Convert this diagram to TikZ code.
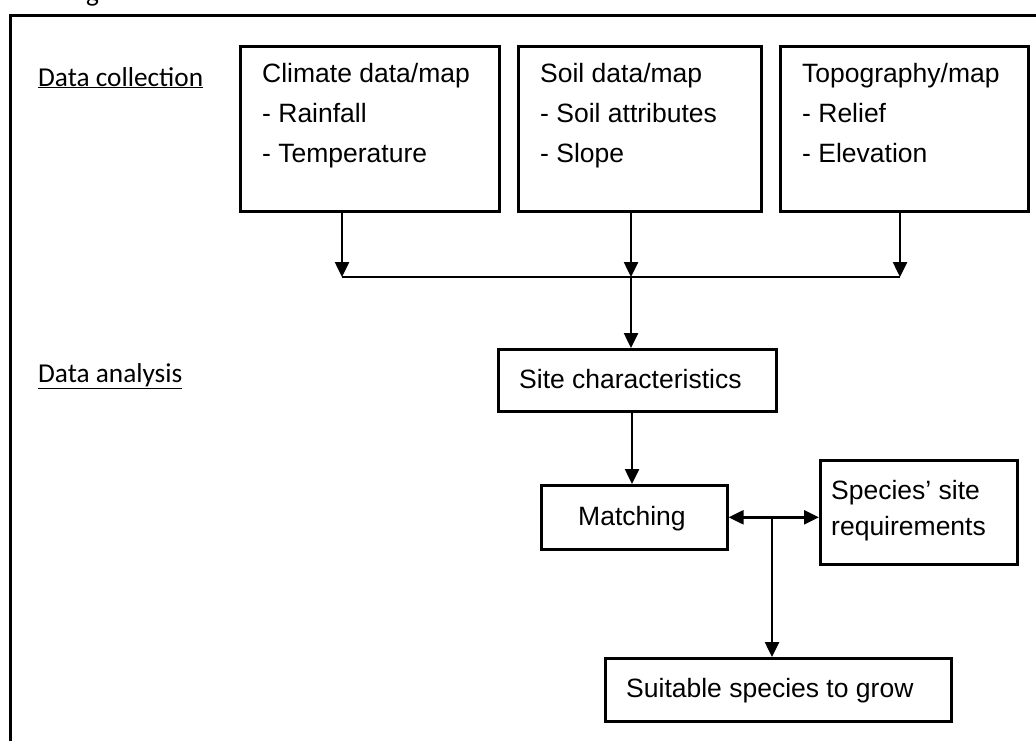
\documentclass[tikz,border=0pt]{standalone}
\usepackage{fontspec}
\setmainfont{Liberation Sans}
\newfontfamily\calib{Carlito}
\usetikzlibrary{arrows.meta}
\tikzset{
  box/.style={draw, line width=2.6pt, rectangle, inner sep=0pt, anchor=north west},
  lbl/.style={anchor=base west, inner sep=0pt, font=\fontsize{26.5}{40}\selectfont},
  head/.style={anchor=base west, inner sep=0pt, font=\calib\fontsize{27.3}{33}\selectfont},
  conn/.style={line width=2.5pt},
  arr/.style={line width=2.5pt, -{Triangle[length=15pt,width=14pt]}},
  darr/.style={line width=2.5pt, {Triangle[length=15pt,width=14pt]}-{Triangle[length=15pt,width=14pt]}},
  frame/.style={line width=3pt}
}
\begin{document}
\begin{tikzpicture}[x=1pt,y=-1pt]
\useasboundingbox (0,0) rectangle (1036,740);
\begin{scope}
\clip (0,0) rectangle (1036,740);
% cut-off caption letter at the top
\node[head] (cap) at (86,1) {g};
% outer frame (continues beyond the picture)
\coordinate (fbl) at (10,745);
\coordinate (ftl) at (10,15);
\coordinate (ftr) at (1040,15);
\draw[frame] (fbl) -- (ftl) -- (ftr);
\end{scope}

% section labels
\node[head] (dcol) at (38,86) {\underline{Data collection}};
\node[head] (dana) at (38,382) {\underline{Data analysis}};

% top row boxes
\node[box, minimum width=259pt, minimum height=165pt] (clim) at (239,45) {};
\node[box, minimum width=243pt, minimum height=165pt] (soil) at (517,45) {};
\node[box, minimum width=248pt, minimum height=165pt] (topo) at (779,45) {};

\node[lbl] (c1) at (262,82) {Climate data/map};
\node[lbl] (c2) at (262,122) {- Rainfall};
\node[lbl] (c3) at (262,162) {- Temperature};

\node[lbl] (s1) at (540,82) {Soil data/map};
\node[lbl] (s2) at (540,122) {- Soil attributes};
\node[lbl] (s3) at (540,162) {- Slope};

\node[lbl] (t1) at (802,82) {Topography/map};
\node[lbl] (t2) at (802,122) {- Relief};
\node[lbl] (t3) at (802,162) {- Elevation};

% bus
\coordinate (busL) at (342,277);
\coordinate (busM) at (631,277);
\coordinate (busR) at (900,277);
\draw[arr] (clim.south -| busL) -- (busL);
\draw[arr] (soil.south -| busM) -- (busM);
\draw[arr] (topo.south -| busR) -- (busR);
\draw[conn] (busL) -- (busR);

% analysis boxes
\node[box, minimum width=278pt, minimum height=62pt] (site) at (497,348) {};
\node[lbl] (sitet) at (519,388) {Site characteristics};
\draw[arr] (busM) -- (site.north -| busM);

\node[box, minimum width=186pt, minimum height=64pt] (match) at (540,484) {};
\node[lbl] (matcht) at (578,525) {Matching};
\coordinate (mx) at (632,0);
\draw[arr] (site.south -| mx) -- (match.north -| mx);

\node[box, minimum width=197pt, minimum height=104pt] (spec) at (819,459) {};
\node[lbl] (spect1) at (831,499) {Species’ site};
\node[lbl] (spect2) at (831,535) {requirements};

\draw[darr] (match.east) -- (spec.west |- match.east);

\node[box, minimum width=346pt, minimum height=63pt] (suit) at (604,657) {};
\node[lbl] (suitt) at (626,697) {Suitable species to grow};

\coordinate (jn) at (772,0);
\draw[arr] (match.east -| jn) -- (suit.north -| jn);
\end{tikzpicture}
\end{document}
